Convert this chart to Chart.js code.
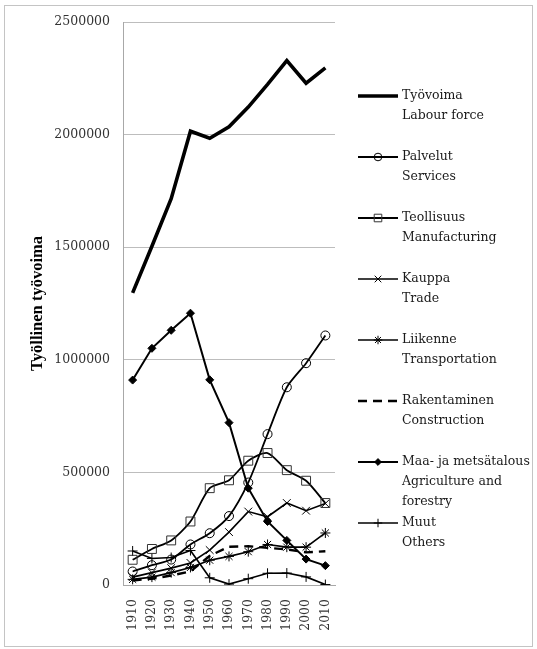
<!DOCTYPE html>
<html>
<head>
<meta charset="utf-8">
<script src="https://cdn.jsdelivr.net/npm/chart.js@4.4.1/dist/chart.umd.min.js"></script>
<style>
  html, body { margin: 0; padding: 0; background: #fff; }
  #wrap { width: 537px; height: 649px; }
</style>
</head>
<body>
<div id="wrap"><canvas id="myChart" width="537" height="649"></canvas></div>
<script>
// years on the x axis
const years = ["1910", "1920", "1930", "1940", "1950", "1960", "1970", "1980", "1990", "2000", "2010"];

// employed labour force by sector (persons)
const labourForce   = [1297000, 1504000, 1715000, 2015000, 1984000, 2035000, 2122000, 2223000, 2329000, 2228000, 2296000];
const services      = [60000, 88000, 113000, 180000, 230000, 306000, 455000, 670000, 878000, 985000, 1108000];
const manufacturing = [112000, 160000, 198000, 282000, 430000, 465000, 552000, 586000, 510000, 463000, 364000];
const trade         = [35000, 55000, 75000, 98000, 155000, 235000, 326000, 303000, 364000, 330000, 362000];
const transport     = [25000, 35000, 55000, 78000, 110000, 127000, 148000, 180000, 168000, 168000, 231000];
const construction  = [20000, 28000, 42000, 60000, 130000, 170000, 172000, 165000, 158000, 145000, 150000];
const agriculture   = [910000, 1051000, 1131000, 1207000, 911000, 721000, 430000, 282000, 198000, 115000, 86000];
const others        = [151000, 118000, 122000, 153000, 32000, 4000, 28000, 52000, 53000, 36000, 2000];

// legend text, one array of lines per series
const legendLines = [
  ["Työvoima", "Labour force"],
  ["Palvelut", "Services"],
  ["Teollisuus", "Manufacturing"],
  ["Kauppa", "Trade"],
  ["Liikenne", "Transportation"],
  ["Rakentaminen", "Construction"],
  ["Maa- ja metsätalous", "Agriculture and", "forestry"],
  ["Muut", "Others"]
];

const yTicks = [0, 500000, 1000000, 1500000, 2000000, 2500000];

const serif = "'DejaVu Serif', serif";
const none = "rgba(0,0,0,0)";

function series(label, data, extra) {
  return Object.assign({
    label: label,
    data: data,
    borderColor: "#000",
    backgroundColor: none,
    borderWidth: 1.8,
    pointRadius: 0,
    pointBorderColor: "#000",
    pointBackgroundColor: none,
    pointBorderWidth: 1,
    tension: 0
  }, extra || {});
}

const datasets = [
  series(legendLines[0].join(" "), labourForce, { borderWidth: 3.6 }),
  series(legendLines[1].join(" "), services, { pointStyle: "circle", pointRadius: 4.5, tension: 0.25 }),
  series(legendLines[2].join(" "), manufacturing, { pointStyle: "rect", pointRadius: 6.3, pointBorderColor: "#333", tension: 0.25 }),
  series(legendLines[3].join(" "), trade, { pointStyle: "crossRot", pointRadius: 5.5, borderWidth: 1.6 }),
  series(legendLines[4].join(" "), transport, { pointStyle: "star", pointRadius: 5, borderWidth: 1.6 }),
  series(legendLines[5].join(" "), construction, { borderWidth: 2.4, borderDash: [9, 6] }),
  series(legendLines[6].join(" "), agriculture, { pointStyle: "rectRot", pointRadius: 4, pointBackgroundColor: "#000", borderWidth: 2 }),
  series(legendLines[7].join(" "), others, { pointStyle: "cross", pointRadius: 5, borderWidth: 1.6 })
];

// outer frame and white background
const framePlugin = {
  id: "frame",
  beforeDraw(chart) {
    const ctx = chart.ctx;
    ctx.save();
    ctx.fillStyle = "#fff";
    ctx.fillRect(0, 0, chart.width, chart.height);
    ctx.strokeStyle = "#c4c4c4";
    ctx.lineWidth = 1;
    ctx.strokeRect(4.5, 5.5, 528, 641);
    ctx.restore();
  }
};

// two-line legend on the right, drawn from dataset styles
const sideLegend = {
  id: "sideLegend",
  afterDraw(chart) {
    const ctx = chart.ctx;
    ctx.save();
    chart.data.datasets.forEach(function (ds, i) {
      const y = 96 + i * 61;
      ctx.beginPath();
      ctx.setLineDash(ds.borderDash || []);
      ctx.lineWidth = ds.borderWidth;
      ctx.strokeStyle = "#000";
      ctx.moveTo(358, y);
      ctx.lineTo(398, y);
      ctx.stroke();
      ctx.setLineDash([]);
      if (ds.pointRadius > 0) {
        ctx.fillStyle = ds.pointBackgroundColor;
        ctx.strokeStyle = ds.pointBorderColor;
        ctx.lineWidth = 1;
        Chart.helpers.drawPoint(ctx, { pointStyle: ds.pointStyle, radius: ds.pointRadius * 0.85, borderWidth: 1, rotation: 0 }, 378, y);
      }
      ctx.fillStyle = "#1a1a1a";
      ctx.font = "12.5px " + serif;
      ctx.textBaseline = "middle";
      ctx.textAlign = "left";
      legendLines[i].forEach(function (line, k) {
        ctx.fillText(line, 402, y + k * 20);
      });
    });
    ctx.restore();
  }
};

new Chart(document.getElementById("myChart").getContext("2d"), {
  type: "line",
  data: { labels: years, datasets: datasets },
  plugins: [framePlugin, sideLegend],
  options: {
    responsive: false,
    animation: false,
    devicePixelRatio: 1,
    layout: { padding: { left: 20, right: 202, top: 22, bottom: 17 } },
    plugins: {
      legend: { display: false },
      tooltip: { enabled: false }
    },
    scales: {
      x: {
        offset: true,
        grid: { display: false, drawTicks: false },
        border: { display: true, color: "#a8a8a8", width: 1 },
        afterFit(axis) { axis.height = 47; },
        ticks: {
          minRotation: 90,
          maxRotation: 90,
          padding: 14,
          color: "#333",
          font: { family: serif, size: 12.5 }
        }
      },
      y: {
        min: 0,
        max: 2500000,
        afterBuildTicks(axis) { axis.ticks = yTicks.map(function (v) { return { value: v }; }); },
        afterFit(axis) { axis.width = 103; },
        grid: { color: "#bdbdbd", drawTicks: false },
        border: { display: true, color: "#a8a8a8", width: 1 },
        ticks: {
          padding: 13,
          color: "#333",
          font: { family: serif, size: 12.5 },
          callback: function (v) { return String(v); }
        },
        title: {
          display: true,
          text: "Työllinen työvoima",
          color: "#000",
          font: { family: "'Liberation Serif', serif", size: 16.5, weight: "bold" },
          padding: { top: 8, bottom: 0 }
        }
      }
    }
  }
});
</script>
</body>
</html>
